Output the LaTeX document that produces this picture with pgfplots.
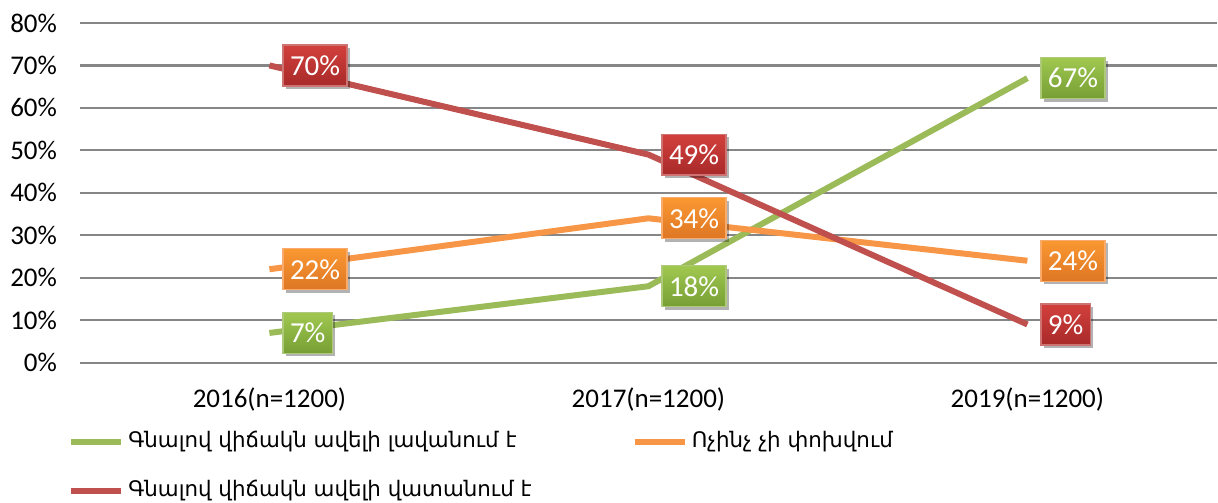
\documentclass[border=0pt]{standalone}
\usepackage{fontspec}
\setmainfont{Carlito}
\newfontfamily\armfont{DejaVu Sans}
\usepackage{pgfplots}
\pgfplotsset{compat=1.18}
\usetikzlibrary{shadows}

\definecolor{GrnLine}{RGB}{155,187,89}
\definecolor{OrgLine}{RGB}{247,150,70}
\definecolor{RedLine}{RGB}{192,80,77}
\definecolor{GrnTop}{RGB}{160,200,80}
\definecolor{GrnBot}{RGB}{118,158,52}
\definecolor{OrgTop}{RGB}{250,152,50}
\definecolor{OrgBot}{RGB}{222,118,36}
\definecolor{RedTop}{RGB}{210,64,60}
\definecolor{RedBot}{RGB}{168,42,42}
\definecolor{GridGray}{RGB}{134,134,134}

\tikzset{
  lab/.style n args={3}{anchor=west, xshift=6.5pt, text=white,
    font=\fontsize{14.5}{15}\selectfont, minimum height=20.5pt,
    inner xsep=3.5pt, draw=#1, line width=0.6pt,
    top color=#2, bottom color=#3,
    drop shadow={shadow xshift=1.5pt, shadow yshift=-1.5pt, fill=black, opacity=0.3}},
  ser/.style={line width=3pt, line join=round, mark=none}
}

\begin{document}
\begin{tikzpicture}
\begin{axis}[
  name=ax, scale only axis, width=569pt, height=170pt,
  xmin=-0.5, xmax=2.5, ymin=0, ymax=80,
  xtick={0,1,2},
  xticklabels={2016(n=1200),2017(n=1200),2019(n=1200)},
  ytick={0,10,...,80},
  /pgf/number format/assume math mode=true,
  yticklabel={\pgfmathprintnumber{\tick}\%},
  ymajorgrids, grid style={draw=GridGray, line width=1.1pt},
  axis line style={draw=none}, tick style={draw=none},
  tick label style={font=\fontsize{13.5}{14}\selectfont, text=black},
  yticklabel style={xshift=-8pt},
  xticklabel style={yshift=-9pt},
  clip=false,
  legend columns=2,
  legend cell align=left,
  legend style={at={(0,0)}, anchor=north west, xshift=-6pt, yshift=-33.5pt,
    draw=none, fill=none, inner sep=0pt, row sep=12.5pt,
    font=\armfont\fontsize{10.7}{12}\selectfont,
    nodes={inner xsep=2pt, inner ysep=0pt, text height=9pt, text depth=3pt}},
  legend image code/.code={\draw[#1, line width=3pt] (0pt,0pt) -- (25pt,0pt);},
]
\addplot[ser, GrnLine] coordinates {(0,7) (1,18) (2,67)};
\addlegendentry{\makebox[250pt][l]{Գնալով վիճակն ավելի լավանում է}}
\addplot[ser, OrgLine] coordinates {(0,22) (1,34) (2,24)};
\addlegendentry{Ոչինչ չի փոխվում}
\addplot[ser, RedLine] coordinates {(0,70) (1,49) (2,9)};
\addlegendentry{Գնալով վիճակն ավելի վատանում է}

\addplot[draw=none, forget plot, nodes near coords={\pgfmathprintnumber{\pgfplotspointmeta}\%},
  every node near coord/.style={lab={GrnLine!80!white}{GrnTop}{GrnBot}}]
  coordinates {(0,7) (1,18) (2,67)};
\addplot[draw=none, forget plot, nodes near coords={\pgfmathprintnumber{\pgfplotspointmeta}\%},
  every node near coord/.style={lab={OrgLine!80!white}{OrgTop}{OrgBot}}]
  coordinates {(0,22) (1,34) (2,24)};
\addplot[draw=none, forget plot, nodes near coords={\pgfmathprintnumber{\pgfplotspointmeta}\%},
  every node near coord/.style={lab={RedLine!80!white}{RedTop}{RedBot}}]
  coordinates {(0,70) (1,49) (2,9)};
\coordinate (o) at (rel axis cs:0,0);
\coordinate (t) at (rel axis cs:1,1);
\end{axis}
\path (o) ++(-40pt,-69.5pt) rectangle (t) ++(0pt,11.5pt);
\end{tikzpicture}
\end{document}
